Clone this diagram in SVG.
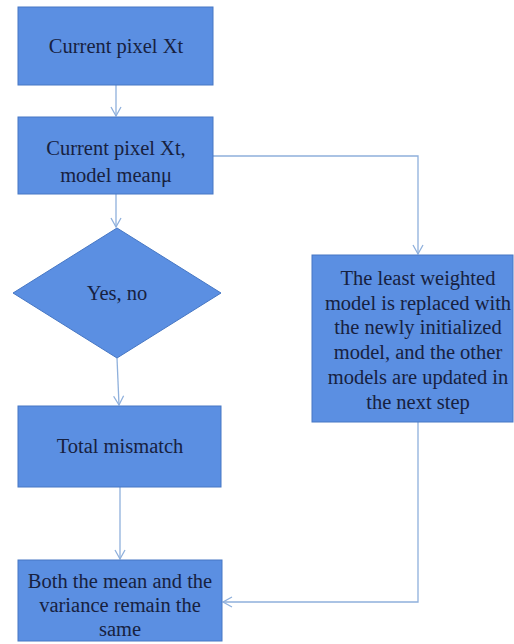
<svg xmlns="http://www.w3.org/2000/svg" width="514" height="644" viewBox="0 0 514 644">
<defs>
<style>
.box{fill:#5b8fe2;stroke:#4677c4;stroke-width:1}
.t{font-family:'Liberation Serif','Times New Roman',serif;font-size:20.5px;fill:#17213f;text-anchor:middle}
.c{fill:none;stroke:#8fb0dc;stroke-width:1.3}
</style>
<marker id="a" markerWidth="12" markerHeight="12" refX="10" refY="6" orient="auto" markerUnits="userSpaceOnUse">
<path d="M1,1 L10,6 L1,11" fill="none" stroke="#8fb0dc" stroke-width="1.3"/>
</marker>
</defs>
<rect width="514" height="644" fill="#ffffff"/>
<g id="connectors">
<line class="c" x1="116" y1="85" x2="116" y2="116" marker-end="url(#a)"/>
<line class="c" x1="116" y1="194" x2="116" y2="227" marker-end="url(#a)"/>
<line class="c" x1="117" y1="358" x2="119" y2="405" marker-end="url(#a)"/>
<line class="c" x1="120" y1="487" x2="120" y2="559" marker-end="url(#a)"/>
<polyline class="c" points="213,156 418,156 418,254" marker-end="url(#a)"/>
<polyline class="c" points="418,422 418,602 223,602" marker-end="url(#a)"/>
</g>
<g id="n1">
<rect class="box" x="18" y="7" width="195" height="78"/>
<text class="t" x="116" y="53">Current pixel Xt</text>
</g>
<g id="n2">
<rect class="box" x="18" y="117" width="195" height="77"/>
<text class="t" x="116" y="155">Current pixel Xt,</text>
<text class="t" x="116" y="182">model meanμ</text>
</g>
<g id="n3">
<polygon class="box" points="117,228 221,293 117,358 13,293"/>
<text class="t" x="117" y="300">Yes, no</text>
</g>
<g id="n4">
<rect class="box" x="18" y="406" width="203" height="81"/>
<text class="t" x="120" y="453">Total mismatch</text>
</g>
<g id="n5">
<rect class="box" x="18" y="560" width="204" height="81"/>
<text class="t" x="120" y="588">Both the mean and the</text>
<text class="t" x="120" y="612">variance remain the</text>
<text class="t" x="120" y="636">same</text>
</g>
<g id="n6">
<rect class="box" x="312" y="255" width="201" height="167"/>
<text class="t" x="418" y="285">The least weighted</text>
<text class="t" x="418" y="310">model is replaced with</text>
<text class="t" x="418" y="334">the newly initialized</text>
<text class="t" x="418" y="359">model, and the other</text>
<text class="t" x="418" y="384">models are updated in</text>
<text class="t" x="418" y="409">the next step</text>
</g>
</svg>
